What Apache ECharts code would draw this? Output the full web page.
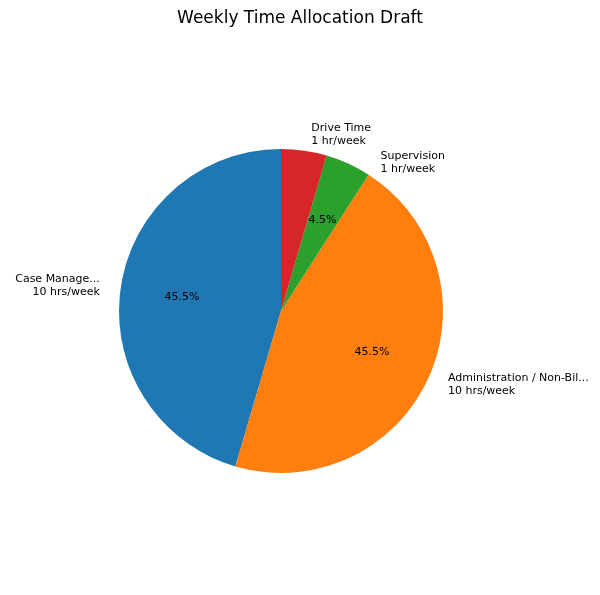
<!DOCTYPE html>
<html><head><meta charset="utf-8">
<script src="https://cdn.jsdelivr.net/npm/echarts@6/dist/echarts.min.js"></script>
<style>html,body{margin:0;padding:0;background:#fff}#c{width:600px;height:595px}</style>
</head><body><div id="c"></div>
<script>
const categories = ['Case Management', 'Administration / Non-Billable', 'Supervision', 'Drive Time'];
const hours = [10, 10, 1, 1];
const units = ['10 hrs/week', '10 hrs/week', '1 hr/week', '1 hr/week'];
const colors = ['#1f77b4', '#ff7f0e', '#2ca02c', '#d62728'];
const total = hours.reduce((a, b) => a + b, 0);
const data = categories.map((c, i) => ({ name: c, value: hours[i], unit: units[i], itemStyle: { color: colors[i] } }));
const chart = echarts.init(document.getElementById('c'));
const font = 'DejaVu Sans';
chart.setOption({
  animation: false,
  title: { text: 'Weekly Time Allocation Draft', left: 'center', top: 5, textStyle: { fontFamily: font, fontSize: 17, fontWeight: 'normal', color: '#000' } },
  series: [
    {
      type: 'pie', center: [281, 311], radius: [0, 162], startAngle: 90, clockwise: false,
      data: data,
      label: { position: 'outside', fontFamily: font, fontSize: 11, color: '#000', lineHeight: 13,
        formatter: p => p.name + '\n' + p.data.unit },
      labelLine: { show: false, length: 16, length2: 0 },
      emphasis: { disabled: true }
    },
    {
      type: 'pie', center: [281, 311], radius: [0, 194], startAngle: 90, clockwise: false, silent: true,
      data: data.map(d => ({ name: d.name, value: d.value, itemStyle: { color: 'transparent' } })),
      label: { position: 'inside', fontFamily: font, fontSize: 11, color: '#000',
        formatter: p => (p.value / total * 100).toFixed(1) + '%' },
      labelLine: { show: false }
    }
  ]
});
</script></body></html>
